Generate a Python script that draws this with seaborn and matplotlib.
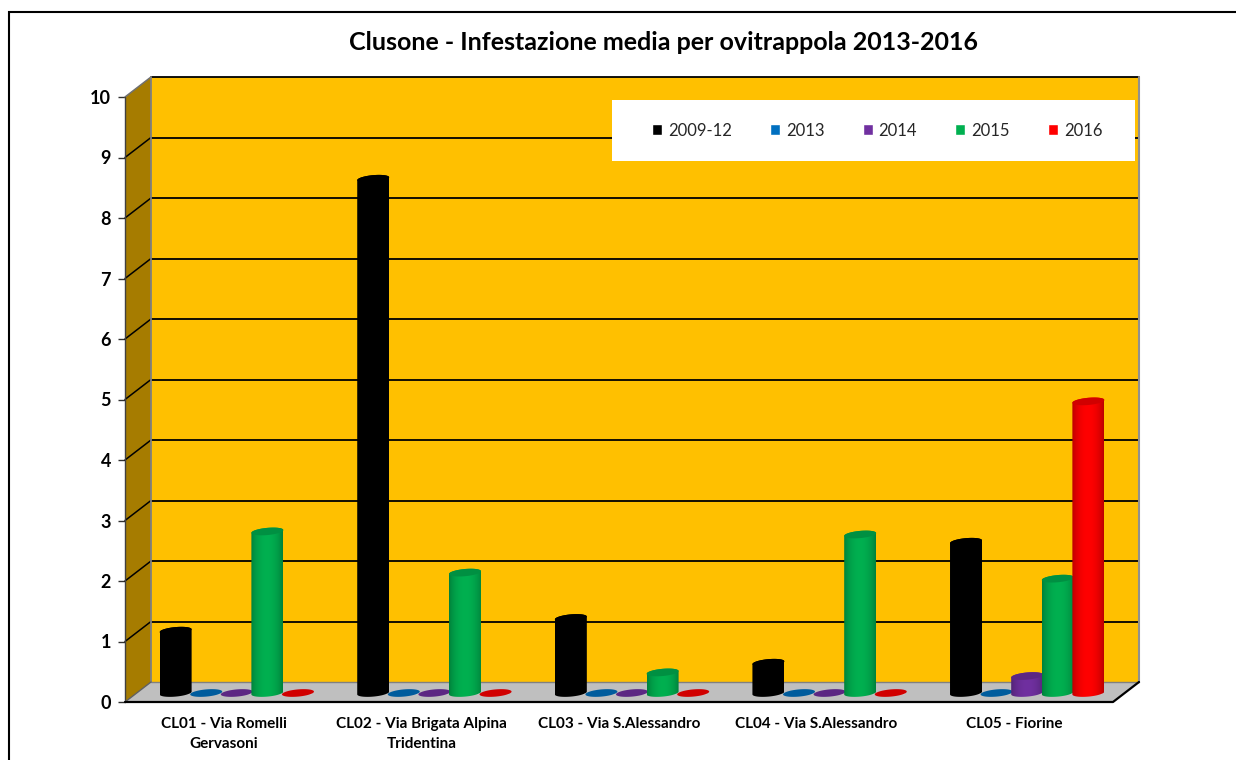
import numpy as np
import pandas as pd
import matplotlib
matplotlib.use("Agg")
import matplotlib.pyplot as plt
from matplotlib.path import Path
from matplotlib.patches import Rectangle
import seaborn as sns

# values
sites = ["CL01 - Via Romelli\nGervasoni", "CL02 - Via Brigata Alpina\nTridentina",
         "CL03 - Via S.Alessandro", "CL04 - Via S.Alessandro", "CL05 - Fiorine"]
v_2009_12 = [1.03, 8.50, 1.24, 0.50, 2.50]
v_2013 = [0, 0, 0, 0, 0]
v_2014 = [0, 0, 0, 0, 0.28]
v_2015 = [2.67, 1.99, 0.34, 2.62, 1.89]
v_2016 = [0, 0, 0, 0, 4.82]
series = ["2009-12", "2013", "2014", "2015", "2016"]
colors = ["#000000", "#0070C0", "#7030A0", "#00B050", "#FF0000"]

W, H = 1236, 760
# 3D look, in data units (one category = 197.6 px, one y unit = 60.5 px)
DEPTH_X = 26 / 197.6
DEPTH_Y = 20 / 60.5
BAR_W = 32 / 197.6
ELL_B = 3.6 / 60.5
ELL_TILT = 1.4 / 60.5

df = pd.DataFrame({"site": sites, "2009-12": v_2009_12, "2013": v_2013,
                   "2014": v_2014, "2015": v_2015, "2016": v_2016})
long_df = df.melt(id_vars="site", var_name="series", value_name="value")

sns.set_theme(style="white")
plt.rcParams["font.family"] = ["Lato", "DejaVu Sans"]

fig = plt.figure(figsize=(W / 100, H / 100), dpi=100)
ax = fig.add_axes([125 / W, 1 - 702 / H, 988 / W, 605 / H])

sns.barplot(data=long_df, x="site", y="value", hue="series", hue_order=series,
            palette=colors, width=0.774, gap=0, saturation=1, ax=ax, zorder=3)
ax.set_xlim(-0.5, 4.5)
ax.set_ylim(0, 10)
x0, x1 = -0.5, 4.5
dx, dy = DEPTH_X, DEPTH_Y

# walls and floor
ax.fill([x0, x0 + dx, x1 + dx, x1 + dx, x0 + dx], [0, dy, dy, 10 + dy, 10 + dy],
        color="#FFC000", lw=0, clip_on=False, zorder=0)
ax.fill([x0, x0 + dx, x0 + dx, x0], [0, dy, 10 + dy, 10], color="#A67C00", lw=0,
        clip_on=False, zorder=0.5)
ax.fill([x0, x1, x1 + dx, x0 + dx], [0, 0, dy, dy], color="#BFBFBF", lw=0,
        clip_on=False, zorder=0.5)

# gridlines on the back wall and along the side wall
for v in range(1, 11):
    ax.plot([x0 + dx, x1 + dx], [v + dy, v + dy], color="black", lw=1.3, clip_on=False, zorder=1)
    ax.plot([x0, x0 + dx], [v, v + dy], color="black" if v < 10 else "#707070", lw=1.1,
            clip_on=False, zorder=1)
ax.plot([x0 + dx, x0 + dx], [dy, 10 + dy], color="#808080", lw=1.3, clip_on=False, zorder=1)
ax.plot([x1 + dx, x1 + dx], [dy, 10 + dy], color="#909090", lw=1.5, clip_on=False, zorder=1)
ax.plot([x0, x0], [0, 10], color="#404040", lw=1, clip_on=False, zorder=1)
ax.plot([x0 + dx, x1 + dx], [dy, dy], color="#808080", lw=1, clip_on=False, zorder=1)
ax.plot([x0, x0 + dx], [0, dy], color="#606060", lw=1, clip_on=False, zorder=1)
ax.plot([x0, x1, x1 + dx], [0, 0, dy], color="black", lw=1.6, clip_on=False, zorder=2)

# turn the flat bars into cylinders standing mid-depth on the floor
t_low = np.linspace(np.pi, 2 * np.pi, 40)
t_up = np.linspace(0, np.pi, 40)
t_all = np.linspace(0, 2 * np.pi, 60)
shade = np.sin(np.linspace(0.1, np.pi - 0.1, 64)) ** 0.6 * 0.36 + 0.64

for k, container in enumerate(ax.containers):
    rgb = np.array(matplotlib.colors.to_rgb(colors[k]))
    img = (shade[None, :, None] * rgb[None, None, :]).clip(0, 1)
    for patch in container:
        val = patch.get_height()
        cx = patch.get_x() + patch.get_width() / 2 + dx / 2
        base = dy / 2 - 1 / 60.5
        a = BAR_W / 2
        z = 4 + k
        patch.set_width(BAR_W * 0.8)
        patch.set_x(cx - BAR_W * 0.4)
        patch.set_y(base)
        patch.set_zorder(z)
        top = base + val
        if val > 0:
            xs = np.r_[cx + a * np.cos(t_low), cx + a * np.cos(t_up)]
            ys = np.r_[base + ELL_B * np.sin(t_low) + ELL_TILT * np.cos(t_low),
                       top + ELL_B * np.sin(t_up) + ELL_TILT * np.cos(t_up)]
            im = ax.imshow(img, extent=[cx - a, cx + a, base - 0.2, top + 0.2],
                           aspect="auto", zorder=z, interpolation="bilinear")
            im.set_clip_path(Path(np.c_[xs, ys]), transform=ax.transData)
        ax.fill(cx + a * np.cos(t_all),
                top + ELL_B * np.sin(t_all) + ELL_TILT * np.cos(t_all),
                color=rgb * 0.82, lw=0, zorder=z + 0.1)

ax.set_xlim(x0, x1)
ax.set_ylim(0, 10)

for s in ax.spines.values():
    s.set_visible(False)
ax.patch.set_visible(False)
ax.set_xlabel("")
ax.set_ylabel("")
ax.set_yticks(range(0, 11))
ax.set_yticklabels([str(v) for v in range(0, 11)], fontsize=13, fontweight="bold", color="black")
ax.tick_params(axis="y", left=True, length=5, width=1, color="#303030", pad=5)
ax.tick_params(axis="x", bottom=False, pad=5)
ax.set_xticks(range(5))
ax.set_xticklabels(sites, fontsize=11, fontweight="bold", color="black", linespacing=1.55)

# legend on a white box over the wall
ax.add_patch(Rectangle((612 / W, 1 - 161 / H), 523 / W, 61 / H, transform=fig.transFigure,
                       facecolor="white", edgecolor="none", clip_on=False, zorder=20))
handles, labels = ax.get_legend_handles_labels()
leg = ax.legend(handles, labels, ncol=5, loc="center left", frameon=False,
                bbox_to_anchor=(652 / W, 1 - 130.5 / H), bbox_transform=fig.transFigure,
                borderpad=0, borderaxespad=0, fontsize=12, handlelength=0.6,
                handleheight=0.6, handletextpad=0.35, columnspacing=2.3)
leg.set_zorder(21)
leg.set_title(None)

fig.text(663.5 / W, 1 - 42 / H, "Clusone - Infestazione media per ovitrappola 2013-2016",
         ha="center", va="center", fontsize=18, fontweight="bold", color="black")

# chart frame, runs off the picture on the right and at the bottom
fig.add_artist(Rectangle((8.5 / W, 1 - 1200 / H), 1500 / W, (1200 - 11.5) / H,
                         transform=fig.transFigure, fill=False, edgecolor="black", lw=1.5))

fig.savefig("out.png", dpi=100)
